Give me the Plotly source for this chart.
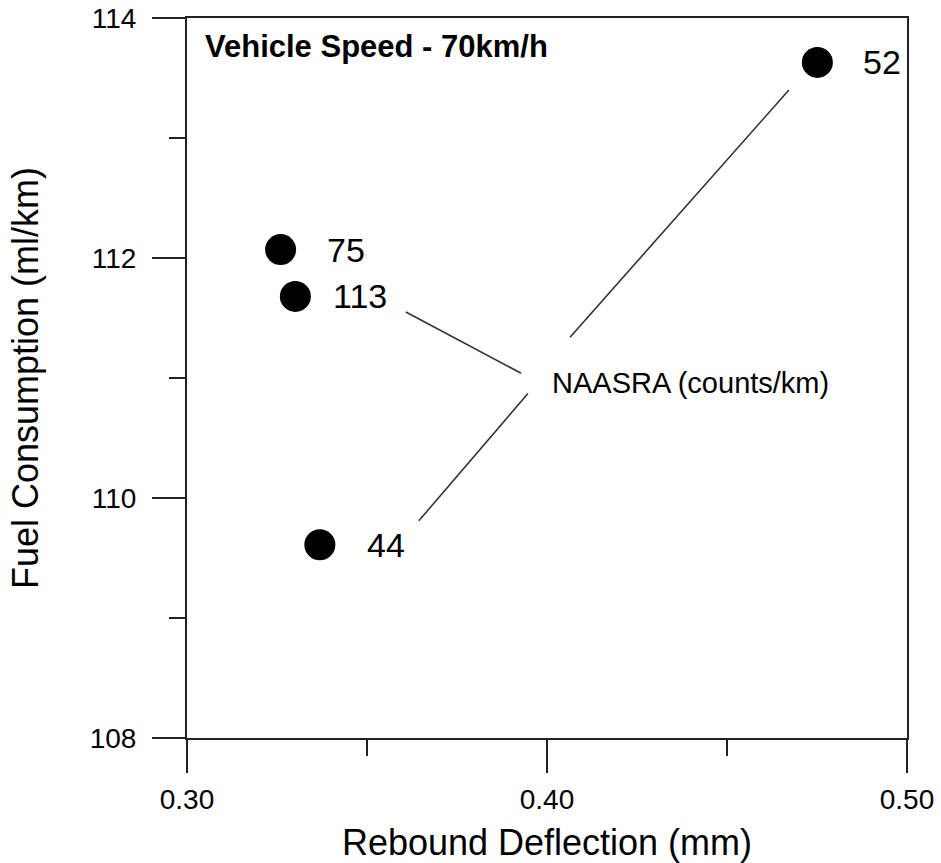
import plotly.graph_objects as go

# Data
deflection = [0.4751, 0.3260, 0.3301, 0.3369]      # Rebound Deflection (mm)
fuel = [113.63, 112.07, 111.68, 109.61]             # Fuel Consumption (ml/km)
naasra = ["52", "75", "113", "44"]                  # NAASRA (counts/km)
label_shift = [44, 44, 36, 45]

# leader lines from the "NAASRA (counts/km)" note to the points (data coords)
leader_x0 = [0.4064, 0.3928, 0.3947]
leader_y0 = [111.34, 111.04, 110.87]
leader_x1 = [0.4672, 0.3608, 0.3644]
leader_y1 = [113.40, 111.55, 109.81]

FONT = "Liberation Sans, Arial, sans-serif"

fig = go.Figure()
fig.add_trace(go.Scatter(
    x=deflection, y=fuel, mode="markers",
    marker=dict(size=31, color="black", line=dict(width=0)),
    showlegend=False, hoverinfo="skip",
))

for x, y, t, s in zip(deflection, fuel, naasra, label_shift):
    fig.add_annotation(x=x, y=y, text=t, showarrow=False, xanchor="left",
                       yanchor="middle", xshift=s,
                       font=dict(family=FONT, size=34, color="black"))

for x0, y0, x1, y1 in zip(leader_x0, leader_y0, leader_x1, leader_y1):
    fig.add_shape(type="line", x0=x0, y0=y0, x1=x1, y1=y1, xref="x", yref="y",
                  line=dict(color="#333333", width=1.6))

fig.add_annotation(x=0.4008, y=110.96, text="NAASRA (counts/km)", showarrow=False,
                   xanchor="left", yanchor="middle",
                   font=dict(family=FONT, size=29, color="black"))

fig.add_annotation(x=0.022, y=0.961, xref="x domain", yref="y domain",
                   text="<b>Vehicle Speed - 70km/h</b>", showarrow=False,
                   xanchor="left", yanchor="middle",
                   font=dict(family=FONT, size=31, color="black"))

axis_common = dict(
    showgrid=False, zeroline=False, showline=True, linecolor="#222222",
    linewidth=2, mirror=True, ticks="outside", ticklen=33, tickwidth=2,
    tickcolor="#222222", tickfont=dict(family=FONT, size=28, color="black"),
)

fig.update_xaxes(
    range=[0.30, 0.50], tickvals=[0.30, 0.40, 0.50],
    ticktext=["0.30", "0.40", "0.50"],
    minor=dict(tickvals=[0.35, 0.45], ticks="outside", ticklen=16,
               tickwidth=2, tickcolor="#222222"),
    title=dict(text="Rebound Deflection (mm)", standoff=19,
               font=dict(family=FONT, size=36, color="black")),
    ticklabelstandoff=2,
    **axis_common,
)
fig.update_yaxes(
    range=[108, 114], tickvals=[108, 110, 112, 114],
    ticktext=["108", "110", "112", "114"],
    minor=dict(tickvals=[109, 111, 113], ticks="outside", ticklen=16,
               tickwidth=2, tickcolor="#222222"),
    title=dict(text="Fuel Consumption (ml/km)", standoff=40,
               font=dict(family=FONT, size=36, color="black")),
    ticklabelstandoff=10,
    **axis_common,
)

fig.update_layout(
    width=941, height=863,
    margin=dict(l=187, r=34, t=18, b=125, autoexpand=False),
    plot_bgcolor="white", paper_bgcolor="white",
    font=dict(family=FONT, color="black"),
)

fig.write_html(
    "out.html",
    config={"displayModeBar": False, "staticPlot": True},
    post_script="document.body.style.margin='0';document.body.style.overflow='hidden';",
)
